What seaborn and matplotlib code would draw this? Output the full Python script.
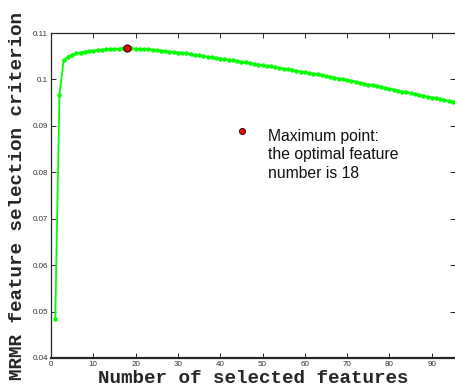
import matplotlib
matplotlib.use("Agg")
import matplotlib.pyplot as plt
import seaborn as sns
import pandas as pd
from matplotlib.ticker import FormatStrFormatter

n_features = list(range(1, 96))
criterion = [
    0.0485, 0.0967, 0.1042, 0.1049, 0.1053, 0.1056, 0.1058, 0.1060, 0.1061, 0.1062,
    0.1063, 0.1064, 0.1065, 0.1065, 0.1066, 0.1066, 0.1067, 0.1068, 0.1067, 0.1066,
    0.1066, 0.1065, 0.1065, 0.1064, 0.1063, 0.1062, 0.1061, 0.1060, 0.1059, 0.1058,
    0.1057, 0.1056, 0.1054, 0.1053, 0.1052, 0.1050, 0.1049, 0.1048, 0.1046, 0.1045,
    0.1044, 0.1042, 0.1041, 0.1040, 0.1038, 0.1037, 0.1035, 0.1034, 0.1032, 0.1031,
    0.1029, 0.1028, 0.1026, 0.1025, 0.1023, 0.1022, 0.1020, 0.1019, 0.1017, 0.1016,
    0.1014, 0.1012, 0.1011, 0.1009, 0.1007, 0.1006, 0.1004, 0.1002, 0.1000, 0.0998,
    0.0997, 0.0995, 0.0993, 0.0991, 0.0989, 0.0988, 0.0986, 0.0984, 0.0982, 0.0980,
    0.0978, 0.0976, 0.0974, 0.0973, 0.0971, 0.0969, 0.0967, 0.0965, 0.0963, 0.0961,
    0.0960, 0.0958, 0.0956, 0.0954, 0.0952,
]
best_n = 18
best_val = criterion[best_n - 1]
legend_marker = [45.2, 0.0888]
legend_text = "Maximum point:\nthe optimal feature\nnumber is 18"
x_ticks = [0, 10, 20, 30, 40, 50, 60, 70, 80, 90]
y_ticks = [0.04, 0.05, 0.06, 0.07, 0.08, 0.09, 0.10, 0.11]

df = pd.DataFrame({"n": n_features, "v": criterion})

sns.set_style("ticks")
plt.rcParams["font.family"] = ["Liberation Sans", "DejaVu Sans"]

fig = plt.figure(figsize=(4.55, 3.88), dpi=100)
ax = fig.add_axes([51/455, 30/388, 1 - 51/455, (358 - 33)/388])

sns.lineplot(data=df, x="n", y="v", ax=ax, color="#00ff00", linewidth=1.3,
             marker="o", markersize=3.2, markeredgecolor="#00ff00", markeredgewidth=0)
ax.plot([best_n], [best_val], marker="o", markersize=5.2, color="#ff0000",
        markeredgecolor="black", markeredgewidth=0.7, linestyle="none", zorder=5)
ax.plot([legend_marker[0]], [legend_marker[1]], marker="o", markersize=4.4,
        color="#ff0000", markeredgecolor="black", markeredgewidth=0.6, linestyle="none")
ax.text(51.3, 0.0894, legend_text, fontsize=11.3, va="top", ha="left",
        linespacing=1.3, family=["Liberation Sans", "DejaVu Sans"], color="#111111")

ax.set_xlim(0, 95.5)
ax.set_ylim(0.04, 0.11)
ax.set_xticks(x_ticks)
ax.set_yticks(y_ticks)
ax.yaxis.set_major_formatter(FormatStrFormatter("%g"))
ax.tick_params(axis="both", direction="in", length=3.5, width=0.7, labelsize=5.8,
               labelcolor="#333333", top=True, right=True, pad=2)
for s in ["left", "top"]:
    ax.spines[s].set_linewidth(0.9)
ax.spines["bottom"].set_linewidth(1.6)
ax.spines["right"].set_visible(False)

lab_font = dict(family=["Liberation Mono", "DejaVu Sans Mono"], fontweight="bold", fontsize=13.9)
ax.set_xlabel("Number of selected features", labelpad=1.5, **lab_font)
ax.set_ylabel("MRMR feature selection criterion", **lab_font)
ax.yaxis.set_label_coords(-0.062, 0.5)

fig.savefig("out.png", dpi=100)
